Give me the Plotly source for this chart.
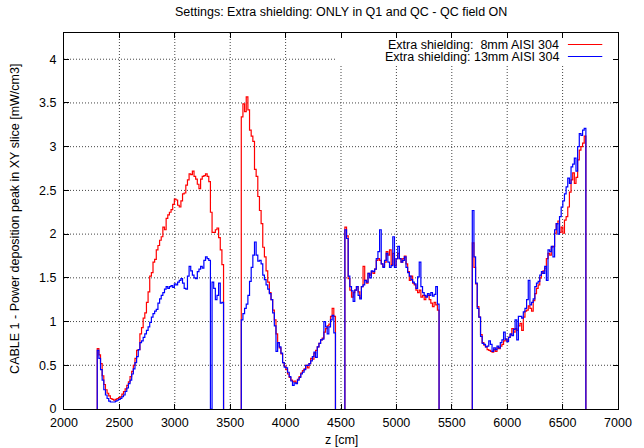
import plotly.graph_objects as go

# z ranges [cm] of the four histogrammed regions
seg_limits = [(2300, 3440), (3600, 4450), (4535, 5385), (5685, 6710)]

# Peak power deposition per z bin [mW/cm3], 8 mm AISI 304 shielding
red_a = [0.69, 0.62, 0.52, 0.38, 0.28, 0.22, 0.18, 0.15, 0.12, 0.11,
         0.10, 0.11, 0.12, 0.13, 0.14, 0.17, 0.20, 0.23, 0.27, 0.31,
         0.37, 0.43, 0.50, 0.58, 0.67, 0.68, 0.86, 0.93, 1.04, 1.10,
         1.22, 1.34, 1.52, 1.56, 1.68, 1.71, 1.82, 1.87, 1.93, 1.97,
         2.08, 2.05, 2.18, 2.22, 2.25, 2.28, 2.34, 2.40, 2.39, 2.33,
         2.31, 2.38, 2.46, 2.47, 2.56, 2.62, 2.69, 2.68, 2.72, 2.66,
         2.63, 2.57, 2.52, 2.63, 2.66, 2.67, 2.69, 2.66, 2.60, 2.25,
         2.02, 2.02, 2.05, 2.07, 1.96, 1.82, 1.65]
red_b = [3.34, 3.49, 3.40, 3.57, 3.42, 3.19, 3.12, 3.06, 2.74, 2.66,
         2.43, 2.27, 2.12, 1.85, 1.74, 1.58, 1.45, 1.33, 1.25, 1.13,
         1.02, 0.86, 0.76, 0.70, 0.63, 0.53, 0.49, 0.45, 0.40, 0.36,
         0.33, 0.31, 0.32, 0.30, 0.34, 0.37, 0.41, 0.44, 0.46, 0.50,
         0.47, 0.52, 0.58, 0.57, 0.64, 0.67, 0.71, 0.75, 0.79, 0.81,
         0.88, 0.92, 0.95, 0.97, 1.06, 1.15, 1.06]
red_c = [2.08, 1.98, 1.49, 1.36, 1.28, 1.33, 1.36, 1.40, 1.34, 1.27,
         1.40, 1.63, 1.47, 1.44, 1.55, 1.53, 1.57, 1.55, 1.60, 1.70,
         1.72, 1.70, 1.66, 1.63, 1.68, 1.80, 1.76, 1.82, 1.65, 1.78,
         1.64, 1.72, 1.78, 1.72, 1.68, 1.72, 1.75, 1.66, 1.57, 1.47,
         1.52, 1.44, 1.42, 1.36, 1.33, 1.36, 1.28, 1.30, 1.25, 1.29,
         1.30, 1.25, 1.21, 1.17, 1.22, 1.19, 1.13]
red_d = [1.90, 1.62, 1.43, 1.17, 1.05, 0.85, 0.76, 0.73, 0.71, 0.68,
         0.67, 0.66, 0.65, 0.68, 0.66, 0.70, 0.69, 0.72, 0.74, 0.78,
         0.80, 0.78, 0.82, 0.85, 0.92, 0.88, 0.92, 0.90, 0.95, 0.98,
         0.90, 1.05, 1.12, 1.13, 1.18, 1.15, 1.12, 1.24, 1.32, 1.38,
         1.42, 1.50, 1.55, 1.58, 1.61, 1.72, 1.78, 1.76, 1.85, 1.86,
         2.01, 2.12, 2.15, 2.02, 2.08, 2.01, 2.16, 2.20, 2.31, 2.48,
         2.62, 2.70, 2.58, 2.65, 2.85, 2.96, 3.00, 3.04, 3.12]

# Same quantity, 13 mm AISI 304 shielding
blue_a = [0.67, 0.58, 0.45, 0.33, 0.22, 0.16, 0.12, 0.09, 0.08, 0.08,
          0.08, 0.09, 0.10, 0.11, 0.12, 0.14, 0.16, 0.20, 0.24, 0.29,
          0.33, 0.40, 0.46, 0.53, 0.60, 0.68, 0.76, 0.78, 0.82, 0.86,
          0.90, 0.94, 0.99, 1.05, 1.09, 1.12, 1.14, 1.21, 1.26, 1.30,
          1.33, 1.37, 1.40, 1.38, 1.40, 1.41, 1.39, 1.43, 1.42, 1.45,
          1.47, 1.49, 1.44, 1.38, 1.37, 1.52, 1.63, 1.58, 1.53, 1.50,
          1.49, 1.57, 1.60, 1.63, 1.61, 1.70, 1.74, 1.72, 1.70, 0.00,
          1.45, 1.38, 1.25, 1.30, 1.44, 1.21, 1.22]
blue_b = [1.02, 1.09, 1.15, 1.20, 1.30, 1.46, 1.62, 1.76, 1.91, 1.76,
          1.69, 1.70, 1.66, 1.53, 1.48, 1.42, 1.37, 1.32, 1.25, 1.10,
          0.95, 0.66, 0.76, 0.71, 0.64, 0.53, 0.48, 0.47, 0.42, 0.37,
          0.32, 0.27, 0.30, 0.29, 0.33, 0.36, 0.40, 0.42, 0.45, 0.50,
          0.50, 0.52, 0.55, 0.60, 0.65, 0.59, 0.71, 0.75, 0.79, 0.80,
          1.00, 0.94, 0.86, 0.94, 1.02, 1.07, 0.87]
blue_c = [2.05, 1.95, 1.52, 1.40, 1.35, 1.23, 1.36, 1.40, 1.30, 1.26,
          1.40, 1.42, 1.47, 1.45, 1.55, 1.50, 1.58, 1.57, 1.60, 1.72,
          1.80, 2.05, 1.66, 1.62, 1.70, 1.78, 1.68, 1.62, 1.64, 1.97,
          1.62, 1.72, 1.86, 1.72, 1.68, 1.70, 1.74, 1.62, 1.56, 1.52,
          1.48, 1.45, 1.43, 1.38, 1.51, 1.68, 1.40, 1.33, 1.30, 1.28,
          1.32, 1.30, 1.33, 1.29, 1.31, 1.40, 1.20]
blue_d = [2.27, 1.74, 1.44, 1.15, 1.05, 0.83, 0.75, 0.74, 0.71, 0.72,
          0.78, 0.74, 0.66, 0.70, 0.68, 0.72, 0.70, 0.76, 0.79, 0.88,
          0.80, 0.77, 0.82, 0.86, 0.84, 0.91, 1.02, 0.79, 1.06, 1.06,
          1.04, 1.11, 1.15, 1.25, 1.47, 1.19, 1.22, 1.26, 1.40, 1.44,
          1.46, 1.53, 1.57, 1.55, 1.63, 1.47, 1.82, 1.80, 1.86, 1.74,
          2.05, 2.12, 2.00, 2.20, 2.31, 2.38, 2.46, 2.54, 2.64, 2.58,
          2.77, 2.80, 2.87, 2.72, 3.00, 3.15, 3.13, 3.19, 3.21]

series_names = ["Extra shielding:  8mm AISI 304", "Extra shielding: 13mm AISI 304"]
series_colors = ["#ff0000", "#0000ff"]
x_ticks = list(range(2000, 7001, 500))
y_ticks = [i * 0.5 for i in range(9)]
x_range = [2000, 7000]
y_range = [0, 4.3]

FONT = "Liberation Sans, Arial, Helvetica, sans-serif"


def histogram_steps(limits, segments):
    """Build step outline (with drops to zero at region edges)."""
    xs, ys = [], []
    for (z0, z1), vals in zip(limits, segments):
        w = (z1 - z0) / len(vals)
        xs.append(z0)
        ys.append(0)
        for i, v in enumerate(vals):
            xs.append(z0 + i * w)
            ys.append(v)
        xs.append(z1)
        ys.append(0)
        xs.append(None)
        ys.append(None)
    return xs, ys


fig = go.Figure()
for name, color, segs in zip(series_names, series_colors,
                             [[red_a, red_b, red_c, red_d],
                              [blue_a, blue_b, blue_c, blue_d]]):
    xs, ys = histogram_steps(seg_limits, segs)
    fig.add_trace(go.Scatter(x=xs, y=ys, mode="lines", name=name,
                             line=dict(color=color, width=1.2, shape="hv"),
                             connectgaps=False, showlegend=False))

# plot-area geometry in pixels (for placing key and titles)
L, R, T, B = 64, 628, 33, 409
W, H = R - L, B - T


def px(x):
    return (x - L) / W


def py(y):
    return (B - y) / H


axis_common = dict(showline=True, linecolor="black", linewidth=1, mirror="ticks",
                   ticks="inside", ticklen=5, tickcolor="black", tickwidth=1,
                   showgrid=False, zeroline=False,
                   tickfont=dict(family=FONT, size=12.5, color="black"))

fig.update_xaxes(range=x_range, tickvals=x_ticks, ticklabelstandoff=2, **axis_common)
fig.update_yaxes(range=y_range, tickvals=y_ticks, ticklabelstandoff=4, **axis_common)

# dotted grid, then the opaque key box on top of it (all beneath the traces)
grid_line = dict(color="#444444", width=1, dash="1px,2px")
shapes = []
for xv in x_ticks[1:-1]:
    shapes.append(dict(type="line", xref="x", yref="y", x0=xv, x1=xv,
                       y0=y_range[0], y1=y_range[1], line=grid_line, layer="below"))
for yv in y_ticks[1:]:
    shapes.append(dict(type="line", xref="x", yref="y", x0=x_range[0], x1=x_range[1],
                       y0=yv, y1=yv, line=grid_line, layer="below"))
key_z0 = 4455
key_v0 = 3.94
shapes.append(dict(type="rect", xref="x", yref="y", x0=key_z0, x1=x_range[1],
                   y0=key_v0, y1=y_range[1], fillcolor="white", line=dict(width=0),
                   layer="below"))

annotations = [
    dict(text="Settings: Extra shielding: ONLY in Q1 and QC - QC field ON",
         xref="paper", yref="paper", x=0.5, y=py(12), xanchor="center", yanchor="middle",
         showarrow=False, font=dict(family=FONT, size=12.5, color="black")),
    dict(text="z [cm]", xref="paper", yref="paper", x=0.5, y=py(440),
         xanchor="center", yanchor="middle", showarrow=False,
         font=dict(family=FONT, size=12.5, color="black")),
    dict(text="CABLE 1 - Power deposition peak in XY slice [mW/cm3]", xref="paper",
         yref="paper", x=px(14), y=py(219), xanchor="center", yanchor="middle",
         textangle=-90, showarrow=False, font=dict(family=FONT, size=12.5, color="black")),
]
for i, (name, color) in enumerate(zip(series_names, series_colors)):
    ky = 44.5 + 12 * i
    annotations.append(dict(text=name, xref="paper", yref="paper", x=px(569), y=py(ky),
                            xanchor="right", yanchor="middle", showarrow=False,
                            borderpad=0, font=dict(family=FONT, size=12.5, color="black")))
    shapes.append(dict(type="line", xref="paper", yref="paper", x0=px(577), x1=px(612),
                       y0=py(ky), y1=py(ky), line=dict(color=color, width=1.2)))

fig.update_layout(width=644, height=448, autosize=False,
                  margin=dict(l=L, r=644 - R, t=T, b=448 - B, pad=0),
                  paper_bgcolor="white", plot_bgcolor="white",
                  shapes=shapes, annotations=annotations,
                  font=dict(family=FONT, size=12.5, color="black"))

fig.write_html("out.html")
